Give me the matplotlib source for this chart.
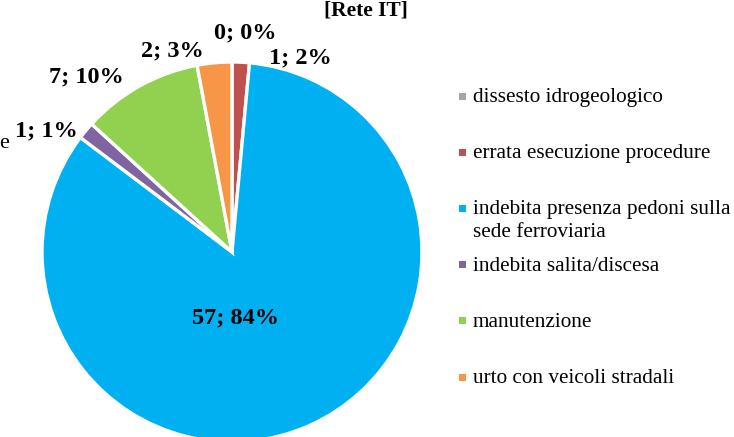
import matplotlib
matplotlib.use("Agg")
import matplotlib.pyplot as plt
from matplotlib.patches import Rectangle

plt.rcParams['font.family'] = ['Liberation Serif', 'DejaVu Serif']

# data
causes = ['dissesto idrogeologico', 'errata esecuzione procedure',
          'indebita presenza pedoni sulla\nsede ferroviaria',
          'indebita salita/discesa', 'manutenzione', 'urto con veicoli stradali']
counts = [0, 1, 57, 1, 7, 2]
percents = [0, 2, 84, 1, 10, 3]
colors = ['#A5A5A5', '#C0504D', '#00B0F0', '#8064A2', '#92D050', '#F79646']

# label placement (in pie radius units)
label_pos = [(0.068, 1.153), (0.358, 1.021), (0.016, -0.347),
             (-0.979, 0.637), (-0.768, 0.921), (-0.316, 1.058)]

W, H = 734, 437
fig = plt.figure(figsize=(W / 100, H / 100), dpi=100)

# pie axes: centre (232, 252) px, radius 190 px
cx, cy, r = 232, 252, 190
ax = fig.add_axes([(cx - r) / W, 1 - (cy + r) / H, 2 * r / W, 2 * r / H])
ax.pie(counts, colors=colors, startangle=90, counterclock=False,
       wedgeprops=dict(edgecolor='white', linewidth=2.4))
ax.set_xlim(-1, 1)
ax.set_ylim(-1, 1)
ax.axis('off')

for n, p, (x, y) in zip(counts, percents, label_pos):
    ax.text(x, y, f"{n}; {p}%", ha='center', va='center', fontsize=17.5,
            fontweight='bold', clip_on=False)

# title (partly cut at top) and stray text on the left
fig.text(366 / W, 1 - 16 / H, "[Rete IT]", ha='center', va='baseline',
         fontsize=15.5, fontweight='bold')
fig.text(9 / W, 1 - 148 / H, "e", ha='right', va='baseline', fontsize=16)

# legend drawn manually
base_y = 102
row_step = 56.2
line_step = 23
for i, (name, c) in enumerate(zip(causes, colors)):
    yb = base_y + i * row_step
    fig.patches.append(Rectangle((459 / W, 1 - (yb - 2.5) / H), 7 / W, 7 / H,
                                 transform=fig.transFigure, facecolor=c,
                                 edgecolor='none'))
    for k, line in enumerate(name.split('\n')):
        fig.text(473 / W, 1 - (yb + k * line_step) / H, line, ha='left',
                 va='baseline', fontsize=15.3)

fig.savefig("out.png", dpi=100, facecolor='white')
